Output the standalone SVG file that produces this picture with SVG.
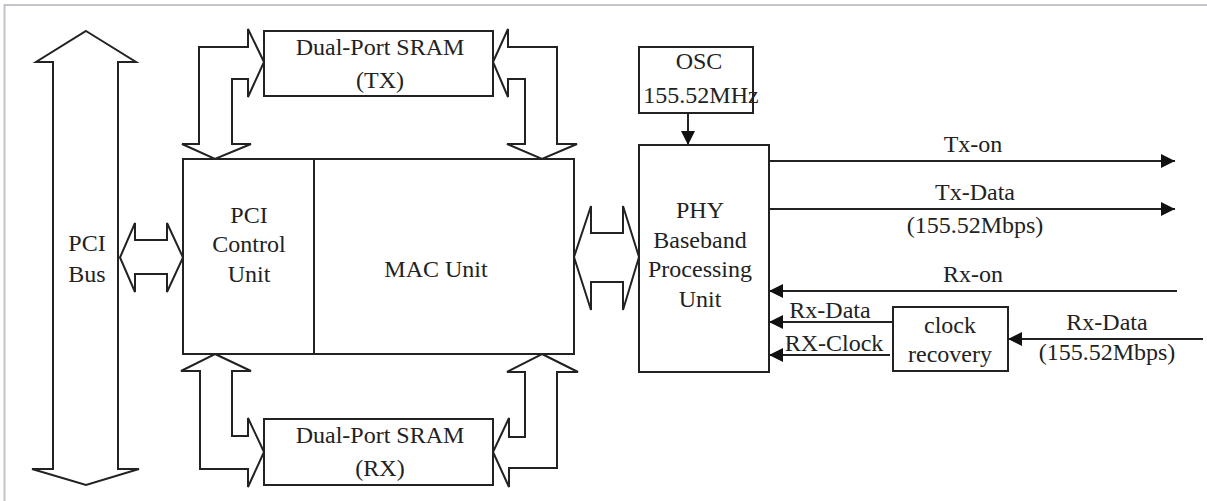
<svg xmlns="http://www.w3.org/2000/svg" width="1207" height="501" viewBox="0 0 1207 501">
<style>
.box{fill:#fff;stroke:#222;stroke-width:2}
.big{fill:#fff;stroke:#222;stroke-width:2;stroke-linejoin:miter}
.ln{fill:none;stroke:#222;stroke-width:2}
text{font-family:"Liberation Serif","Times New Roman",serif;font-size:24px;fill:#222;text-anchor:middle}
</style>
<defs>
<marker id="ah" markerWidth="14" markerHeight="14" refX="14" refY="7" orient="auto" markerUnits="userSpaceOnUse">
<path d="M0,0 L14,7 L0,14 z" fill="#111"/>
</marker>
</defs>
<rect width="1207" height="501" fill="#fff"/>
<path d="M4.5,501 L4.5,5 L1207,5" fill="none" stroke="#c4c4cc" stroke-width="2"/>

<g id="connectors">
<path class="big" d="M86,31 L136,62 L118,62 L118,469 L139,469 L86,485 L32,469 L53,469 L53,62 L36,62 Z"/>
<path class="big" d="M120,257.5 L135,223 L135,240 L167,240 L167,223 L183,257.5 L167,292 L167,274 L135,274 L135,292 Z"/>
<path class="big" d="M574,257 L591,206 L591,233 L623,233 L623,206 L639,257 L623,310 L623,282 L591,282 L591,310 Z"/>
<path class="big" d="M264,62 L248,29 L248,47 L199,47 L199,144 L182,144 L215,159 L251,144 L232,144 L232,79 L248,79 L248,97 Z"/>
<path class="big" d="M493,62 L508,29 L508,47 L557,47 L557,144 L577,144 L542,159 L507,144 L525,144 L525,79 L508,79 L508,97 Z"/>
<path class="big" d="M215,354 L251,371 L232,371 L232,436 L248,436 L248,418 L264,452 L248,487 L248,469 L200,469 L200,371 L181,371 Z"/>
<path class="big" d="M542,354 L578,372 L557,372 L557,468 L509,468 L509,487 L493,452 L509,418 L509,437 L525,437 L525,372 L507,372 Z"/>
<line class="ln" x1="688" y1="113" x2="688" y2="145" marker-end="url(#ah)"/>
<line class="ln" x1="769" y1="161" x2="1175" y2="161" marker-end="url(#ah)"/>
<line class="ln" x1="769" y1="209" x2="1175" y2="209" marker-end="url(#ah)"/>
<line class="ln" x1="1177" y1="291" x2="769" y2="291" marker-end="url(#ah)"/>
<line class="ln" x1="897" y1="322" x2="769" y2="322" marker-end="url(#ah)"/>
<line class="ln" x1="890" y1="355" x2="769" y2="355" marker-end="url(#ah)"/>
<line class="ln" x1="1203" y1="339" x2="1008" y2="339" marker-end="url(#ah)"/>
<text x="973" y="152">Tx-on</text>
<text x="975" y="200">Tx-Data</text>
<text x="975" y="233">(155.52Mbps)</text>
<text x="973" y="282">Rx-on</text>
<text x="830" y="318">Rx-Data</text>
<text x="834" y="351">RX-Clock</text>
<text x="1107" y="330">Rx-Data</text>
<text x="1107" y="360">(155.52Mbps)</text>
</g>

<g id="pcibus">
<text x="87" y="251">PCI</text>
<text x="87" y="282">Bus</text>
</g>

<g id="sram-tx">
<rect class="box" x="264" y="31" width="229" height="65"/>
<text x="380" y="55">Dual-Port SRAM</text>
<text x="380" y="88">(TX)</text>
</g>

<g id="sram-rx">
<rect class="box" x="264" y="419" width="229" height="66"/>
<text x="380" y="443">Dual-Port SRAM</text>
<text x="380" y="476">(RX)</text>
</g>

<g id="pci-control">
<rect class="box" x="183" y="159" width="131" height="195"/>
<text x="249" y="223">PCI</text>
<text x="249" y="252">Control</text>
<text x="249" y="282">Unit</text>
</g>

<g id="mac">
<rect class="box" x="314" y="159" width="260" height="195"/>
<text x="436" y="277">MAC Unit</text>
</g>

<g id="osc">
<rect class="box" x="639" y="47" width="114" height="66"/>
<text x="699" y="69">OSC</text>
<text x="701" y="103">155.52MHz</text>
</g>

<g id="phy">
<rect class="box" x="639" y="145" width="130" height="227"/>
<text x="700" y="218">PHY</text>
<text x="700" y="248">Baseband</text>
<text x="700" y="277">Processing</text>
<text x="700" y="307">Unit</text>
</g>

<g id="clock-recovery">
<rect class="box" x="893" y="307" width="115" height="64"/>
<text x="950" y="333">clock</text>
<text x="950" y="362">recovery</text>
</g>
</svg>
